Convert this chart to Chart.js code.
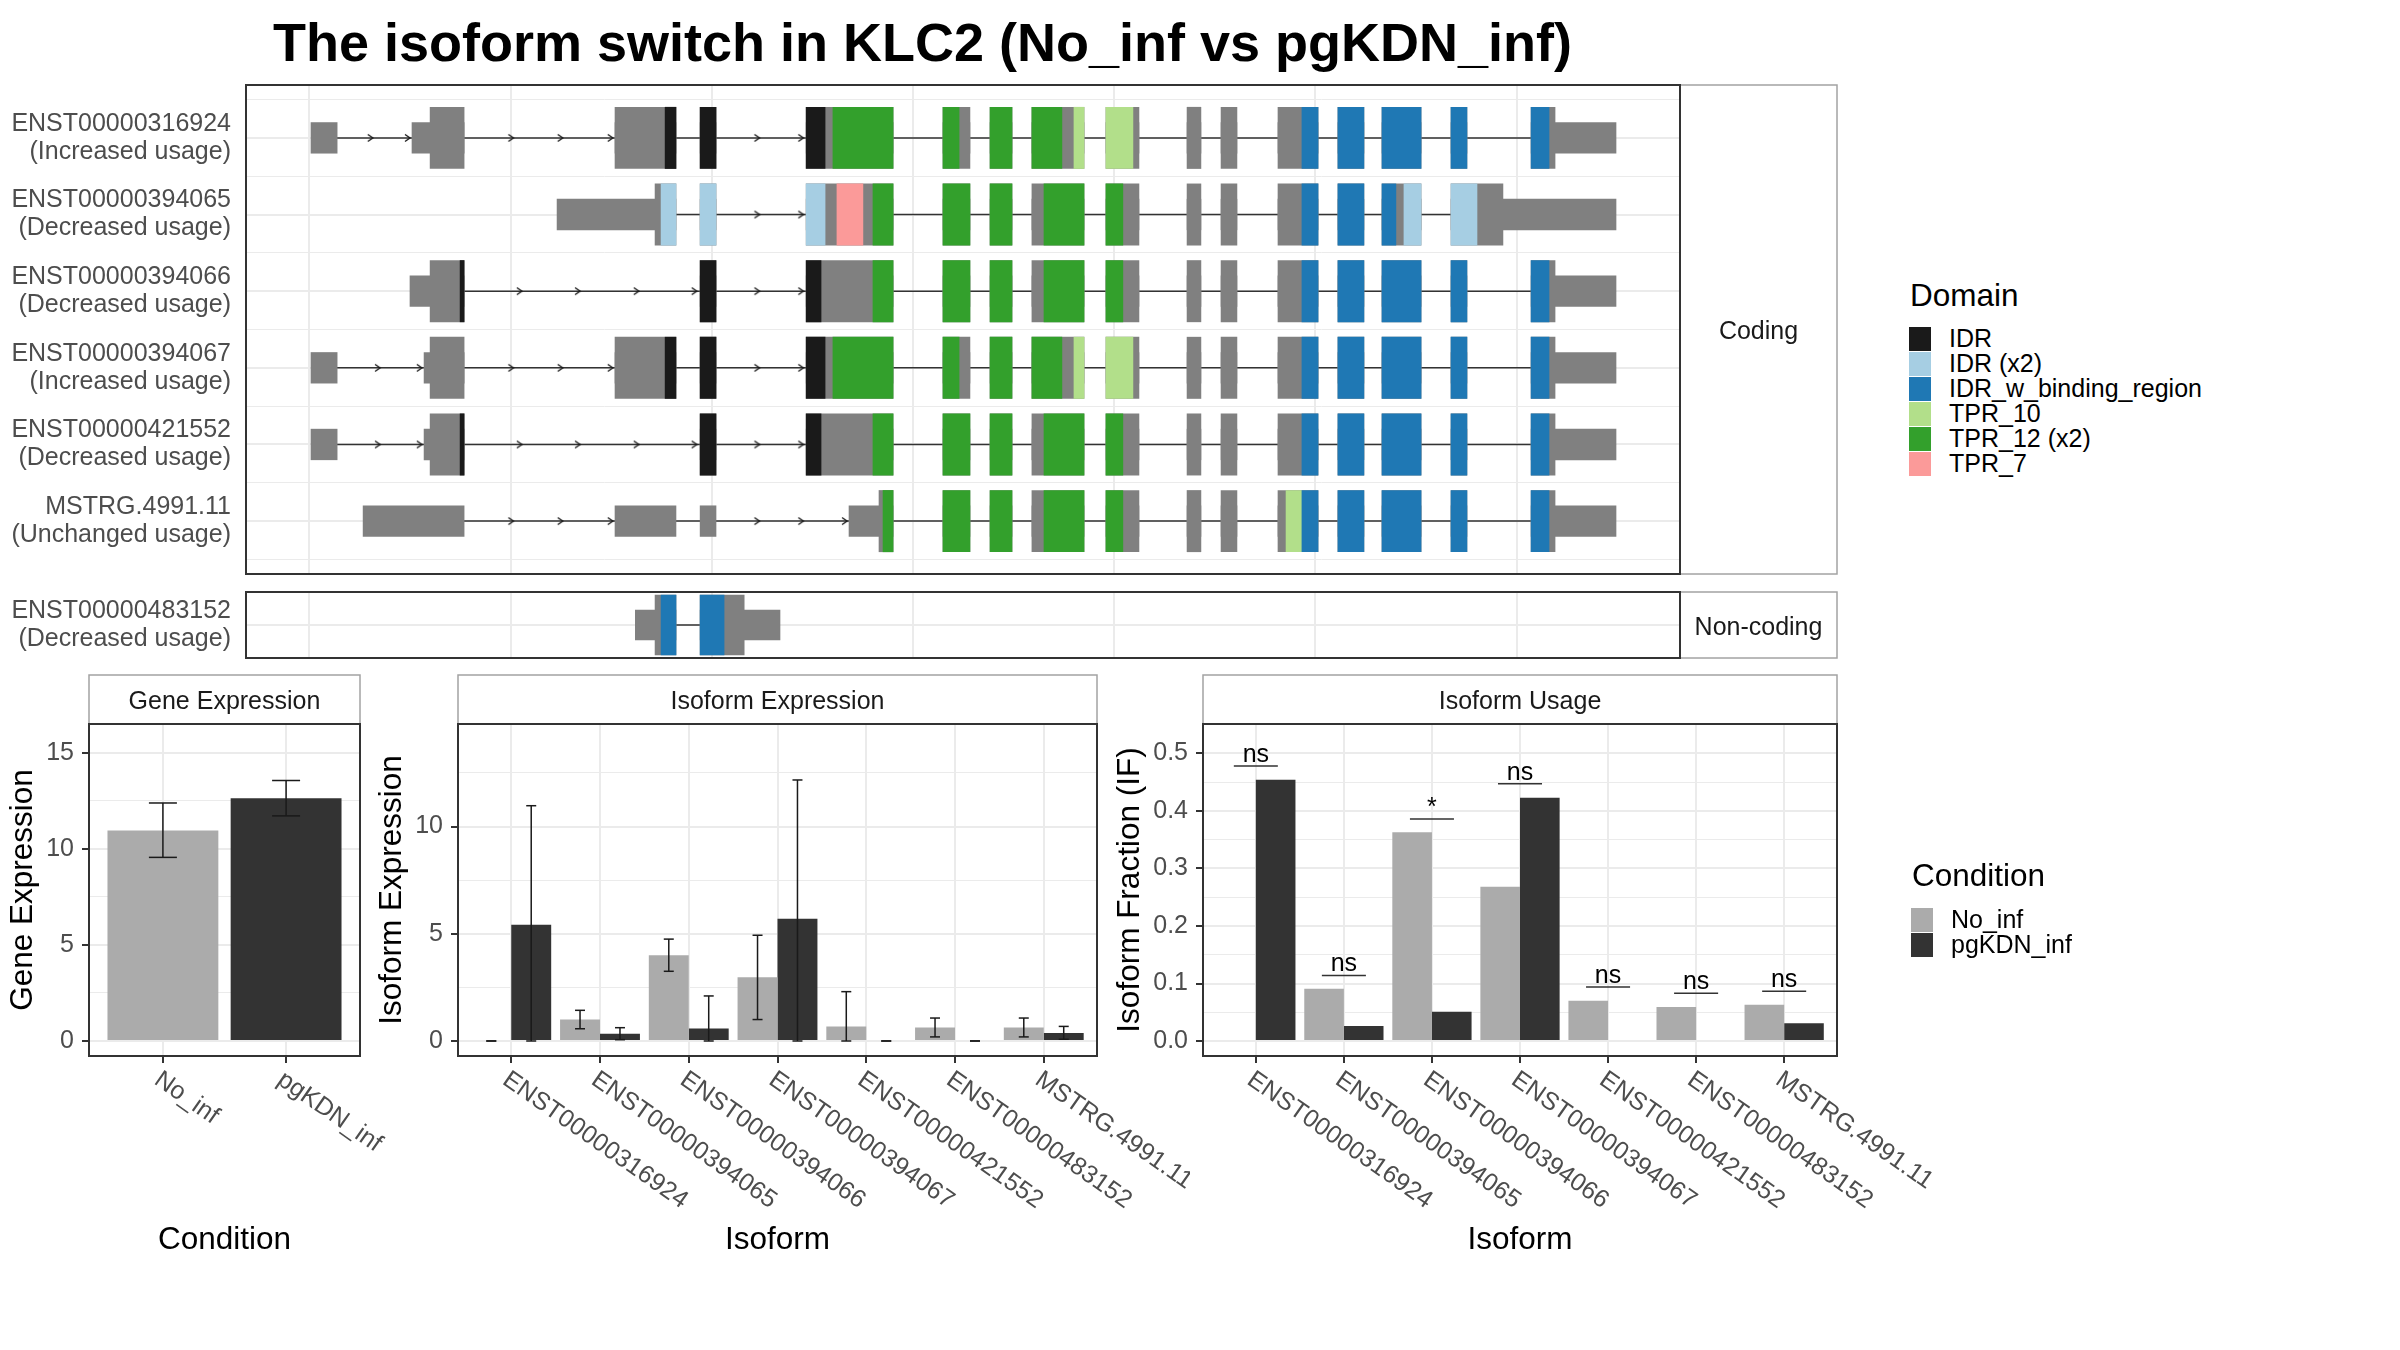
<!DOCTYPE html>
<html lang="en">
<head>
<meta charset="utf-8">
<title>KLC2 isoform switch</title>
<script src="https://cdn.jsdelivr.net/npm/chart.js@4.4.1/dist/chart.umd.min.js"></script>
<style>
  html, body { margin: 0; padding: 0; background: #ffffff; }
  body { position: relative; width: 2400px; height: 1350px; overflow: hidden;
         font-family: 'Liberation Sans', Arial, Helvetica, sans-serif; color: #000; }
  .panel { position: absolute; }
  #plot-title { position: absolute; left: 273px; top: 15px; font-size: 54px; line-height: 54px;
                font-weight: bold; white-space: nowrap; }
  .legend { position: absolute; }
  .legend-title { position: absolute; left: 1px; top: 0; font-size: 31.5px; line-height: 31.5px; white-space: nowrap; }
  .legend-row { position: absolute; left: 0; height: 25px; width: 400px; }
  .legend-key { position: absolute; left: 0; top: 0; width: 22px; height: 24px; }
  .legend-label { position: absolute; left: 40px; top: -1px; font-size: 25px; line-height: 25px; white-space: nowrap; }
</style>
</head>
<body>
<div id="plot-title"></div>

<div class="panel" style="left:0;top:60px;width:1840px;height:520px"><canvas id="coding"></canvas></div>
<div class="panel" style="left:0;top:580px;width:1840px;height:85px"><canvas id="noncoding"></canvas></div>
<div class="panel" style="left:0;top:670px;width:400px;height:600px"><canvas id="gene"></canvas></div>
<div class="panel" style="left:370px;top:670px;width:820px;height:600px"><canvas id="isoexp"></canvas></div>
<div class="panel" style="left:1110px;top:670px;width:850px;height:600px"><canvas id="usage"></canvas></div>

<div class="legend" id="domain-legend" style="left:1909px;top:280px"></div>
<div class="legend" id="condition-legend" style="left:1911px;top:860px"></div>

<script>
// ---------------- data ----------------
const plotTitle = 'The isoform switch in KLC2 (No_inf vs pgKDN_inf)';

const conditions = ['No_inf', 'pgKDN_inf'];
const conditionColors = ['#ABABAB', '#333333'];

const domainNames = ['IDR', 'IDR (x2)', 'IDR_w_binding_region', 'TPR_10', 'TPR_12 (x2)', 'TPR_7'];
const domainColors = ['#1A1A1A', '#A6CEE3', '#1F78B4', '#B2DF8A', '#33A02C', '#FB9A99'];

// transcript structures, coordinates along the gene (plot units)
const codingIds = ['ENST00000316924', 'ENST00000394065', 'ENST00000394066',
                   'ENST00000394067', 'ENST00000421552', 'MSTRG.4991.11'];
const codingUsage = ['Increased usage', 'Decreased usage', 'Decreased usage',
                     'Increased usage', 'Decreased usage', 'Unchanged usage'];
const nonCodingIds = ['ENST00000483152'];
const nonCodingUsage = ['Decreased usage'];

const codingExons = [
  [[8,138],[510,769],[1519,1822],[1942,2021],[2469,2901],[3149,3283],[3383,3492],[3591,3850],[3959,4123],[4362,4431],[4531,4610],[4814,5013],[5112,5241],[5331,5525],[5674,5753],[6072,6494]],
  [[1231,1822],[1942,2021],[2469,2901],[3149,3283],[3383,3492],[3591,3850],[3959,4123],[4362,4431],[4531,4610],[4814,5013],[5112,5241],[5331,5525],[5674,6494]],
  [[500,769],[1942,2021],[2469,2901],[3149,3283],[3383,3492],[3591,3850],[3959,4123],[4362,4431],[4531,4610],[4814,5013],[5112,5241],[5331,5525],[5674,5753],[6072,6494]],
  [[8,138],[570,769],[1519,1822],[1942,2021],[2469,2901],[3149,3283],[3383,3492],[3591,3850],[3959,4123],[4362,4431],[4531,4610],[4814,5013],[5112,5241],[5331,5525],[5674,5753],[6072,6494]],
  [[8,138],[570,769],[1942,2021],[2469,2901],[3149,3283],[3383,3492],[3591,3850],[3959,4123],[4362,4431],[4531,4610],[4814,5013],[5112,5241],[5331,5525],[5674,5753],[6072,6494]],
  [[267,769],[1519,1822],[1942,2021],[2682,2901],[3149,3283],[3383,3492],[3591,3850],[3959,4123],[4362,4431],[4531,4610],[4814,5013],[5112,5241],[5331,5525],[5674,5753],[6072,6494]]
];
const codingOrfs = [[600,6191],[1718,5932],[600,6191],[600,6191],[600,6191],[2831,6191]];

const codingDomains = [
  [[1768,1822,'IDR'],[1942,2021,'IDR'],[2469,2563,'IDR'],[2602,2901,'TPR_12 (x2)'],[3149,3229,'TPR_12 (x2)'],[3383,3492,'TPR_12 (x2)'],[3591,3740,'TPR_12 (x2)'],[3800,3850,'TPR_10'],[3959,4093,'TPR_10'],[4933,5013,'IDR_w_binding_region'],[5112,5241,'IDR_w_binding_region'],[5331,5525,'IDR_w_binding_region'],[5674,5753,'IDR_w_binding_region'],[6072,6161,'IDR_w_binding_region']],
  [[1748,1822,'IDR (x2)'],[1942,2021,'IDR (x2)'],[2469,2563,'IDR (x2)'],[2622,2751,'TPR_7'],[2801,2901,'TPR_12 (x2)'],[3149,3283,'TPR_12 (x2)'],[3383,3492,'TPR_12 (x2)'],[3651,3850,'TPR_12 (x2)'],[3959,4043,'TPR_12 (x2)'],[4933,5013,'IDR_w_binding_region'],[5112,5241,'IDR_w_binding_region'],[5331,5400,'IDR_w_binding_region'],[5440,5525,'IDR (x2)'],[5674,5803,'IDR (x2)']],
  [[749,769,'IDR'],[1942,2021,'IDR'],[2469,2543,'IDR'],[2801,2901,'TPR_12 (x2)'],[3149,3283,'TPR_12 (x2)'],[3383,3492,'TPR_12 (x2)'],[3651,3850,'TPR_12 (x2)'],[3959,4043,'TPR_12 (x2)'],[4933,5013,'IDR_w_binding_region'],[5112,5241,'IDR_w_binding_region'],[5331,5525,'IDR_w_binding_region'],[5674,5753,'IDR_w_binding_region'],[6072,6161,'IDR_w_binding_region']],
  [[1768,1822,'IDR'],[1942,2021,'IDR'],[2469,2563,'IDR'],[2602,2901,'TPR_12 (x2)'],[3149,3229,'TPR_12 (x2)'],[3383,3492,'TPR_12 (x2)'],[3591,3740,'TPR_12 (x2)'],[3800,3850,'TPR_10'],[3959,4093,'TPR_10'],[4933,5013,'IDR_w_binding_region'],[5112,5241,'IDR_w_binding_region'],[5331,5525,'IDR_w_binding_region'],[5674,5753,'IDR_w_binding_region'],[6072,6161,'IDR_w_binding_region']],
  [[749,769,'IDR'],[1942,2021,'IDR'],[2469,2543,'IDR'],[2801,2901,'TPR_12 (x2)'],[3149,3283,'TPR_12 (x2)'],[3383,3492,'TPR_12 (x2)'],[3651,3850,'TPR_12 (x2)'],[3959,4043,'TPR_12 (x2)'],[4933,5013,'IDR_w_binding_region'],[5112,5241,'IDR_w_binding_region'],[5331,5525,'IDR_w_binding_region'],[5674,5753,'IDR_w_binding_region'],[6072,6161,'IDR_w_binding_region']],
  [[2851,2901,'TPR_12 (x2)'],[3149,3283,'TPR_12 (x2)'],[3383,3492,'TPR_12 (x2)'],[3651,3850,'TPR_12 (x2)'],[3959,4043,'TPR_12 (x2)'],[4854,4933,'TPR_10'],[4933,5013,'IDR_w_binding_region'],[5112,5241,'IDR_w_binding_region'],[5331,5525,'IDR_w_binding_region'],[5674,5753,'IDR_w_binding_region'],[6072,6161,'IDR_w_binding_region']]
];

// direction chevrons on the introns
const codingArrows = [
  [315,500,1014,1259,1508,2237,2455],
  [2237,2455],
  [1056,1345,1637,1925,2237,2455],
  [351,559,1014,1259,1508,2237,2455],
  [351,559,1056,1345,1637,1925,2237,2455],
  [1014,1259,1508,2237,2455,2672]
];

const nonCodingExons = [[[1620,1822],[1942,2339]]];
const nonCodingOrfs = [[1718,2161]];
const nonCodingDomains = [[[1748,1822,'IDR_w_binding_region'],[1942,2061,'IDR_w_binding_region']]];
const nonCodingArrows = [[]];

// expression and usage
const isoformIds = ['ENST00000316924', 'ENST00000394065', 'ENST00000394066', 'ENST00000394067',
                    'ENST00000421552', 'ENST00000483152', 'MSTRG.4991.11'];

const geneExpMean = [10.95, 12.63];
const geneExpLow  = [9.55, 11.71];
const geneExpHigh = [12.38, 13.55];

const isoExpNoInf     = [0, 1.0, 4.0, 2.97, 0.68, 0.63, 0.63];
const isoExpNoInfLow  = [0, 0.57, 3.25, 1.0, 0, 0.19, 0.19];
const isoExpNoInfHigh = [0, 1.43, 4.75, 4.93, 2.3, 1.07, 1.07];
const isoExpPg        = [5.42, 0.34, 0.58, 5.7, 0, 0, 0.37];
const isoExpPgLow     = [0, 0.06, 0, 0, 0, 0, 0.08];
const isoExpPgHigh    = [10.97, 0.62, 2.1, 12.17, 0, 0, 0.68];

const usageNoInf = [0, 0.091, 0.363, 0.268, 0.070, 0.059, 0.063];
const usagePg    = [0.454, 0.026, 0.051, 0.423, 0, 0, 0.031];
const usageSigLabel = ['ns', 'ns', '*', 'ns', 'ns', 'ns', 'ns'];
const usageSigY     = [0.478, 0.114, 0.386, 0.447, 0.094, 0.083, 0.0865];

// ---------------- drawing ----------------
const FONT = "'Liberation Sans', Arial, Helvetica, sans-serif";
const GRID = '#EBEBEB';
const INK = '#333333';
Chart.defaults.font.family = FONT;
Chart.defaults.color = '#4D4D4D';

document.getElementById('plot-title').textContent = plotTitle;

// small ">" glyph used as point style for intron direction
const chevron = (() => {
  const c = document.createElement('canvas');
  c.width = 14; c.height = 12;
  const g = c.getContext('2d');
  g.strokeStyle = '#1A1A1A';
  g.lineWidth = 1.4;
  g.beginPath(); g.moveTo(2, 2.5); g.lineTo(7, 6); g.lineTo(2, 9.5); g.stroke();
  return c;
})();

// fixed axis box, no label overhang padding
function fixSize(s, w, h) {
  if (w !== undefined) s.width = w;
  if (h !== undefined) s.height = h;
  s.paddingTop = 0; s.paddingBottom = 0; s.paddingLeft = 0; s.paddingRight = 0;
}

// panel border, facet strip, axis titles, rotated labels, significance text
const ggPanel = {
  id: 'ggPanel',
  afterDraw(chart, args, o) {
    const { ctx, chartArea: a } = chart;
    ctx.save();
    if (o.strip) {
      const s = o.strip;
      const r = s.side === 'right'
        ? [a.right, a.top, s.size, a.bottom - a.top]
        : [a.left, a.top - s.size, a.right - a.left, s.size];
      ctx.fillStyle = '#FFFFFF';
      ctx.fillRect(r[0], r[1], r[2], r[3]);
      ctx.strokeStyle = '#A3A3A3';
      ctx.lineWidth = 1.5;
      ctx.strokeRect(r[0], r[1], r[2], r[3]);
      ctx.fillStyle = '#1A1A1A';
      ctx.font = `25px ${FONT}`;
      ctx.textAlign = 'center';
      ctx.textBaseline = 'alphabetic';
      ctx.fillText(s.text, r[0] + r[2] / 2, r[1] + r[3] / 2 + 9.5);
    }
    if (o.xLabels) {
      const xs = chart.scales.x;
      ctx.fillStyle = '#4D4D4D';
      ctx.font = `25px ${FONT}`;
      ctx.textAlign = 'left';
      ctx.textBaseline = 'alphabetic';
      xs.ticks.forEach(t => {
        const px = xs.getPixelForValue(t.value);
        ctx.save();
        ctx.translate(px - 10, a.bottom + 27);
        ctx.rotate(35 * Math.PI / 180);
        ctx.fillText(o.xLabels[t.value - 1], 0, 0);
        ctx.restore();
      });
    }
    if (o.sig) {
      const xs = chart.scales.x, ys = chart.scales.y;
      ctx.fillStyle = '#000000';
      ctx.font = `25px ${FONT}`;
      ctx.textAlign = 'center';
      ctx.textBaseline = 'alphabetic';
      o.sig.labels.forEach((lab, i) => {
        ctx.fillText(lab, xs.getPixelForValue(i + 1), ys.getPixelForValue(o.sig.ys[i]) - 4);
      });
    }
    ctx.fillStyle = '#000000';
    ctx.font = `31.5px ${FONT}`;
    ctx.textAlign = 'center';
    ctx.textBaseline = 'alphabetic';
    if (o.xTitle) ctx.fillText(o.xTitle, (a.left + a.right) / 2, a.bottom + 193);
    if (o.yTitle) {
      ctx.save();
      ctx.translate(a.left - o.yTitleOffset, (a.top + a.bottom) / 2);
      ctx.rotate(-Math.PI / 2);
      ctx.fillText(o.yTitle, 0, 0);
      ctx.restore();
    }
    ctx.strokeStyle = INK;
    ctx.lineWidth = 2;
    ctx.strokeRect(a.left, a.top, a.right - a.left, a.bottom - a.top);
    ctx.restore();
  }
};
Chart.register(ggPanel);

function trackChart(canvasId, ids, usage, exonSets, orfs, domainSets, arrowSets, yMin, yMax, areaH, padding, stripText) {
  const unit = areaH / (yMax - yMin);
  const introns = [], utr = [], cds = [], arrows = [];
  exonSets.forEach((ex, i) => {
    const row = i + 1;
    introns.push({ x: ex[0][0], y: row }, { x: ex[ex.length - 1][1], y: row }, { x: ex[ex.length - 1][1], y: null });
    ex.forEach(([s, e]) => {
      utr.push({ x: [s, e], y: row });
      const cs = Math.max(s, orfs[i][0]), ce = Math.min(e, orfs[i][1]);
      if (ce > cs) cds.push({ x: [cs, ce], y: row });
    });
    arrowSets[i].forEach(x => arrows.push({ x, y: row }));
  });

  const exonBar = (data, color, thick, order) => ({
    type: 'bar', indexAxis: 'y', grouped: false, data, backgroundColor: color,
    borderWidth: 0, barThickness: thick, order
  });

  const datasets = [
    { type: 'line', data: introns, borderColor: INK, borderWidth: 1.5, pointRadius: 0, spanGaps: false, order: 9 },
    exonBar(utr, '#808080', 0.4 * unit, 8),
    exonBar(cds, '#808080', 0.8 * unit, 7),
    ...domainNames.map((name, k) => exonBar(
      domainSets.flatMap((ds, i) => ds.filter(d => d[2] === name).map(d => ({ x: [d[0], d[1]], y: i + 1 }))),
      domainColors[k], 0.8 * unit, 6)),
    { type: 'scatter', data: arrows, pointStyle: chevron, pointRadius: 4, order: 1 }
  ];

  return new Chart(document.getElementById(canvasId), {
    type: 'bar',
    data: { datasets },
    options: {
      animation: false, responsive: true, maintainAspectRatio: false, events: [],
      layout: { padding, autoPadding: false },
      plugins: {
        legend: { display: false }, tooltip: { enabled: false },
        ggPanel: { strip: { side: 'right', size: 157, text: stripText } }
      },
      scales: {
        x: {
          type: 'linear', min: -315, max: 6812, offset: false,
          afterBuildTicks: s => { s.ticks = [0, 1000, 2000, 3000, 4000, 5000, 6000].map(v => ({ value: v })); },
          ticks: { display: false },
          grid: { offset: false, color: GRID, lineWidth: 2, drawTicks: false },
          border: { display: false },
          afterFit: s => fixSize(s, undefined, 0)
        },
        y: {
          type: 'linear', reverse: true, min: yMin, max: yMax, offset: false,
          afterBuildTicks: s => {
            const t = [];
            for (let v = 0.5; v < yMax; v += 0.5) if (v > yMin) t.push({ value: v });
            s.ticks = t;
          },
          ticks: {
            autoSkip: false, padding: 15, color: '#4D4D4D', font: { size: 25, lineHeight: 1.12 },
            callback: v => Number.isInteger(v) ? [ids[v - 1], '(' + usage[v - 1] + ')'] : ''
          },
          grid: {
            offset: false, color: GRID, drawTicks: false,
            lineWidth: c => (c.tick && Number.isInteger(c.tick.value)) ? 2 : 1
          },
          border: { display: false },
          afterFit: s => fixSize(s, 246, undefined)
        }
      }
    }
  });
}

trackChart('coding', codingIds, codingUsage, codingExons, codingOrfs, codingDomains, codingArrows,
           0.31, 6.69, 489, { top: 25, right: 160, bottom: 6, left: 0 }, 'Coding');
trackChart('noncoding', nonCodingIds, nonCodingUsage, nonCodingExons, nonCodingOrfs, nonCodingDomains, nonCodingArrows,
           0.56, 1.44, 66, { top: 12, right: 160, bottom: 7, left: 0 }, 'Non-coding');

// error bars: vertical segment with caps, one gap point between bars
function errorBars(lows, highs, offset) {
  const d = [];
  lows.forEach((lo, i) => {
    const x = i + 1 + offset;
    d.push({ x, y: lo }, { x, y: highs[i] }, { x, y: null });
  });
  return d;
}
function errorBarSet(data, capRadius) {
  return {
    type: 'line', data, borderColor: '#1A1A1A', borderWidth: 1.5, spanGaps: false,
    pointStyle: 'line', pointRadius: capRadius, pointBorderWidth: 1.5, pointBorderColor: '#1A1A1A', order: 0
  };
}
const near = (v, step) => Math.abs(v / step - Math.round(v / step)) < 1e-6;

function condAxisX(n) {
  return {
    type: 'linear', min: 0.4, max: n + 0.6, offset: false,
    afterBuildTicks: s => { s.ticks = Array.from({ length: n }, (_, i) => ({ value: i + 1 })); },
    ticks: { display: false },
    grid: { offset: false, color: GRID, lineWidth: 2, tickColor: INK, tickWidth: 2, tickLength: 7 },
    border: { display: false },
    afterFit: s => fixSize(s, undefined, 214)
  };
}
function valueAxisY(min, max, minor, major, width, fmt) {
  return {
    type: 'linear', min, max, offset: false,
    afterBuildTicks: s => {
      const t = [];
      for (let k = 0; k * minor <= max; k++) t.push({ value: +(k * minor).toFixed(4) });
      s.ticks = t;
    },
    ticks: {
      autoSkip: false, padding: 8, color: '#4D4D4D', font: { size: 25 },
      callback: v => near(v, major) ? fmt(v) : ''
    },
    grid: {
      offset: false, color: GRID, tickLength: 7, tickWidth: 2,
      lineWidth: c => (c.tick && near(c.tick.value, major)) ? 2 : 1,
      tickColor: c => (c.tick && near(c.tick.value, major)) ? INK : 'rgba(0,0,0,0)'
    },
    border: { display: false },
    afterFit: s => fixSize(s, width, undefined)
  };
}
function baseOptions(padRight, plugin, xAxis, yAxis) {
  return {
    animation: false, responsive: true, maintainAspectRatio: false, events: [],
    layout: { padding: { top: 54, right: padRight, bottom: 0, left: 0 }, autoPadding: false },
    plugins: { legend: { display: false }, tooltip: { enabled: false }, ggPanel: plugin },
    scales: { x: xAxis, y: yAxis }
  };
}
const barSet = (values, color, order) => ({
  type: 'bar', data: values.map((v, i) => ({ x: i + 1, y: v })), backgroundColor: color,
  borderWidth: 0, categoryPercentage: 0.9, barPercentage: 1, inflateAmount: 0, order
});

// Gene Expression
new Chart(document.getElementById('gene'), {
  type: 'bar',
  data: {
    datasets: [
      errorBarSet(errorBars(geneExpLow, geneExpHigh, 0), 14),
      barSet(geneExpMean, conditionColors, 2)
    ]
  },
  options: baseOptions(40,
    { strip: { side: 'top', size: 49, text: 'Gene Expression' }, xLabels: conditions,
      xTitle: 'Condition', yTitle: 'Gene Expression', yTitleOffset: 57 },
    condAxisX(2), valueAxisY(-0.785, 16.49, 2.5, 5, 89, v => String(v)))
});

// Isoform Expression
new Chart(document.getElementById('isoexp'), {
  type: 'bar',
  data: {
    datasets: [
      errorBarSet(errorBars(isoExpNoInfLow, isoExpNoInfHigh, -0.225), 5),
      errorBarSet(errorBars(isoExpPgLow, isoExpPgHigh, 0.225), 5),
      barSet(isoExpNoInf, conditionColors[0], 2),
      barSet(isoExpPg, conditionColors[1], 3)
    ]
  },
  options: baseOptions(93,
    { strip: { side: 'top', size: 49, text: 'Isoform Expression' }, xLabels: isoformIds,
      xTitle: 'Isoform', yTitle: 'Isoform Expression', yTitleOffset: 57 },
    condAxisX(7), valueAxisY(-0.70, 14.78, 2.5, 5, 88, v => String(v)))
});

// Isoform Usage
const sigLines = [];
usageSigY.forEach((h, i) => {
  sigLines.push({ x: i + 1 - 0.25, y: h }, { x: i + 1 + 0.25, y: h }, { x: i + 1, y: null });
});
new Chart(document.getElementById('usage'), {
  type: 'bar',
  data: {
    datasets: [
      { type: 'line', data: sigLines, borderColor: INK, borderWidth: 1.5, pointRadius: 0, spanGaps: false, order: 0 },
      barSet(usageNoInf, conditionColors[0], 2),
      barSet(usagePg, conditionColors[1], 3)
    ]
  },
  options: baseOptions(123,
    { strip: { side: 'top', size: 49, text: 'Isoform Usage' }, xLabels: isoformIds,
      xTitle: 'Isoform', yTitle: 'Isoform Fraction (IF)', yTitleOffset: 64,
      sig: { labels: usageSigLabel, ys: usageSigY } },
    condAxisX(7), valueAxisY(-0.026, 0.551, 0.05, 0.1, 93, v => v.toFixed(1)))
});

// legends
function buildLegend(el, title, names, colors, firstRowTop) {
  const t = document.createElement('div');
  t.className = 'legend-title';
  t.textContent = title;
  el.appendChild(t);
  names.forEach((n, i) => {
    const row = document.createElement('div');
    row.className = 'legend-row';
    row.style.top = (firstRowTop + 25 * i) + 'px';
    const key = document.createElement('div');
    key.className = 'legend-key';
    key.style.background = colors[i];
    const lab = document.createElement('div');
    lab.className = 'legend-label';
    lab.textContent = n;
    row.appendChild(key);
    row.appendChild(lab);
    el.appendChild(row);
  });
}
buildLegend(document.getElementById('domain-legend'), 'Domain', domainNames, domainColors, 47);
buildLegend(document.getElementById('condition-legend'), 'Condition', conditions, conditionColors, 48);
</script>
</body>
</html>
